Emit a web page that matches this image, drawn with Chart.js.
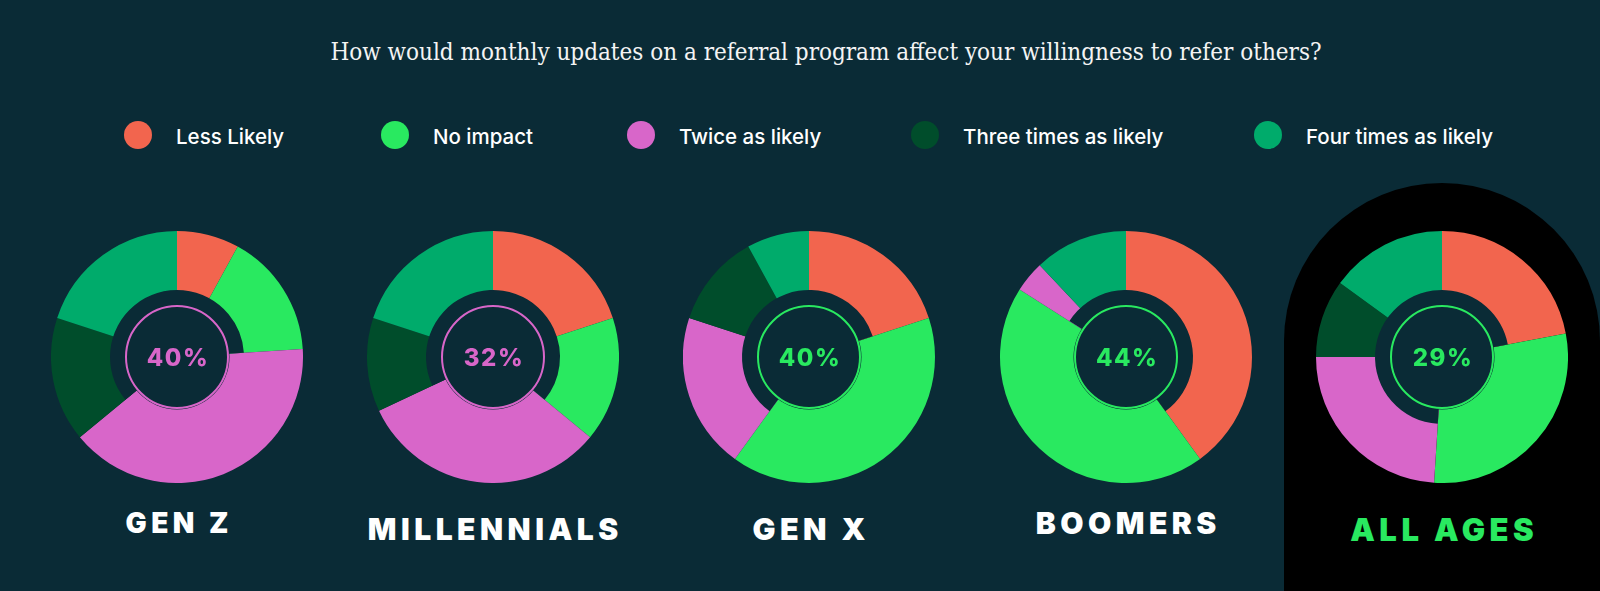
<!DOCTYPE html>
<html>
<head>
<meta charset="utf-8">
<script src="https://cdn.jsdelivr.net/npm/chart.js@4.4.1/dist/chart.umd.min.js"></script>
<style>
  html, body { margin:0; padding:0; }
  body { width:1600px; height:591px; background:#0A2B36; position:relative; overflow:hidden; font-family:Inter, "Noto Sans", sans-serif; }
  #panel { position:absolute; left:1284px; top:183px; width:316px; height:420px; background:#000; border-radius:158px 158px 0 0; }
  #title { position:absolute; left:0; width:1652px; top:40px; text-align:center; color:#F4F4F4; font-family:"DejaVu Serif Condensed", "DejaVu Serif", serif; font-stretch:condensed; font-size:24px; line-height:24px; white-space:nowrap; }
  .lg-dot { position:absolute; width:28px; height:28px; border-radius:50%; top:121px; }
  .lg-txt { position:absolute; top:127px; color:#FFFFFF; font-size:20.5px; line-height:20px; font-weight:500; white-space:nowrap; }
  .donut { position:absolute; width:252px; height:252px; top:231px; }
  .pct { position:absolute; width:120px; text-align:center; top:346px; font-weight:800; font-size:24px; line-height:24px; letter-spacing:1.5px; }
  .lbl { position:absolute; width:320px; text-align:center; font-weight:900; color:#FFFFFF; white-space:nowrap; }
</style>
</head>
<body>
<div id="panel"></div>
<div id="title"></div>
<div id="root"></div>
<script>
// ---- data ----
const chartTitle = "How would monthly updates on a referral program affect your willingness to refer others?";
const answerLabels = ["Less Likely", "No impact", "Twice as likely", "Three times as likely", "Four times as likely"];
const answerColors = ["#F2654E", "#29E960", "#D866C9", "#004D2B", "#00AB6B"];
const groups = ["GEN Z", "MILLENNIALS", "GEN X", "BOOMERS", "ALL AGES"];
const genZ        = [8, 16, 40, 16, 20];
const millennials = [20, 16, 32, 12, 20];
const genX        = [20, 40, 20, 12, 8];
const boomers     = [40, 44, 4, 0, 12];
const allAges     = [22, 29, 24, 10, 15];
const groupValues = [genZ, millennials, genX, boomers, allAges];

// ---- layout (styling only) ----
const BG = "#0A2B36";
const centersX = [177, 493, 809, 1126, 1442];
const legendX = [138, 395, 641, 925, 1268];
const labelStyle = [
  {size:28, top:509, ls:4.5, color:"#FFFFFF"},
  {size:30, top:514, ls:4.5, color:"#FFFFFF"},
  {size:30.5, top:514, ls:4.5, color:"#FFFFFF"},
  {size:30, top:508, ls:4.5, color:"#FFFFFF"},
  {size:31, top:514, ls:4.5, color:"#29E960"}
];

document.getElementById('title').textContent = chartTitle;
const root = document.getElementById('root');

answerLabels.forEach((t, i) => {
  const d = document.createElement('div');
  d.className = 'lg-dot';
  d.style.left = (legendX[i] - 14) + 'px';
  d.style.background = answerColors[i];
  root.appendChild(d);
  const s = document.createElement('div');
  s.className = 'lg-txt';
  s.style.left = (legendX[i] + 38) + 'px';
  s.textContent = t;
  root.appendChild(s);
});

const R = 126, innerOther = 67, ringR = 52;

// Cuts the inner part of every slice except the highlighted one, fills the hole, draws the ring.
const ringPlugin = {
  id: 'ringPlugin',
  afterDatasetsDraw(chart, args, opts) {
    const meta = chart.getDatasetMeta(0);
    const hiArc = meta.data[opts.hi];
    if (!hiArc) return;
    const ctx = chart.ctx;
    const cx = hiArc.x, cy = hiArc.y;
    const a0 = hiArc.endAngle, a1 = hiArc.startAngle + Math.PI * 2;
    ctx.save();
    ctx.fillStyle = opts.bg;
    ctx.beginPath();
    ctx.moveTo(cx, cy);
    ctx.arc(cx, cy, opts.inner, a0, a1);
    ctx.closePath();
    ctx.fill();
    ctx.beginPath();
    ctx.arc(cx, cy, opts.r + 0.5, 0, Math.PI * 2);
    ctx.fill();
    ctx.beginPath();
    ctx.arc(cx, cy, opts.r - 1, 0, Math.PI * 2);
    ctx.strokeStyle = opts.color;
    ctx.lineWidth = 2;
    ctx.stroke();
    ctx.restore();
  }
};

groups.forEach((g, gi) => {
  const vals = groupValues[gi];
  let hi = 0;
  vals.forEach((v, i) => { if (v > vals[hi]) hi = i; });
  const hiColor = answerColors[hi];

  const wrap = document.createElement('div');
  wrap.className = 'donut';
  wrap.style.left = (centersX[gi] - R) + 'px';
  const cv = document.createElement('canvas');
  cv.width = 252; cv.height = 252;
  cv.style.width = '252px'; cv.style.height = '252px';
  wrap.appendChild(cv);
  root.appendChild(wrap);

  new Chart(cv, {
    type: 'doughnut',
    data: {
      labels: answerLabels,
      datasets: [
        { data: vals, backgroundColor: answerColors, borderWidth: 0 }
      ]
    },
    options: {
      responsive: false,
      animation: false,
      cutout: (ringR / R * 100) + '%',
      offset: 0,
      hoverOffset: 0,
      layout: { padding: 0 },
      plugins: {
        legend: { display: false },
        tooltip: { enabled: false },
        title: { display: false },
        ringPlugin: { r: ringR, inner: innerOther, bg: BG, color: hiColor, hi: hi }
      }
    },
    plugins: [ringPlugin]
  });

  const p = document.createElement('div');
  p.className = 'pct';
  p.style.left = (centersX[gi] - 60 + 1) + 'px';
  p.style.color = hiColor;
  p.textContent = vals[hi] + '%';
  root.appendChild(p);

  const st = labelStyle[gi];
  const l = document.createElement('div');
  l.className = 'lbl';
  l.style.left = (centersX[gi] - 160) + 'px';
  l.style.top = st.top + 'px';
  l.style.fontSize = st.size + 'px';
  l.style.lineHeight = st.size + 'px';
  l.style.letterSpacing = st.ls + 'px';
  l.style.paddingLeft = st.ls + 'px';
  l.style.boxSizing = 'border-box';
  l.style.color = st.color;
  l.textContent = g;
  root.appendChild(l);
});
</script>
</body>
</html>
